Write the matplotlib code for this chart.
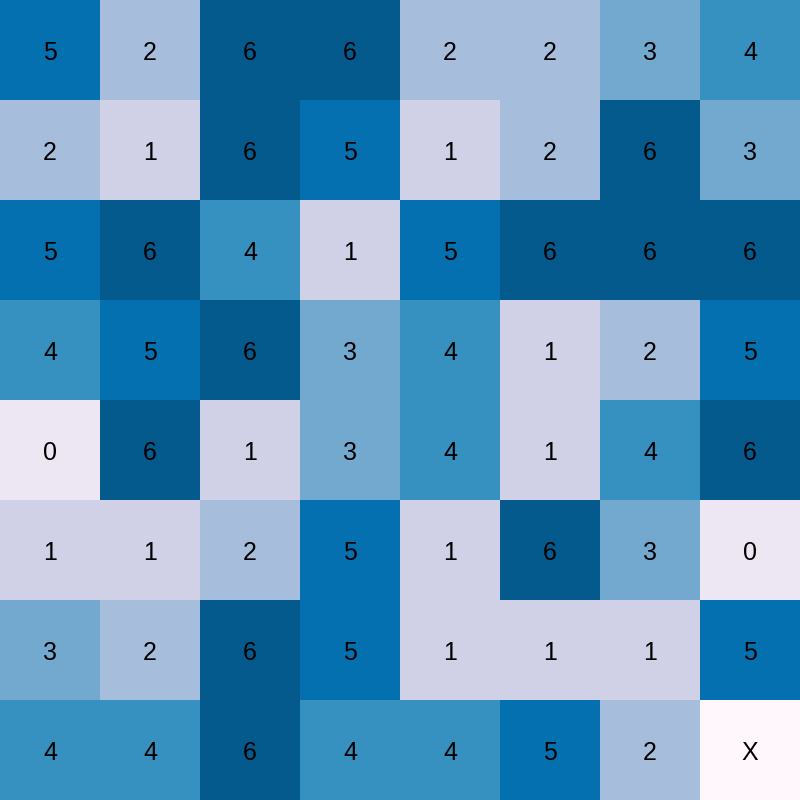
import matplotlib
matplotlib.use("Agg")
import matplotlib.pyplot as plt
from matplotlib.colors import ListedColormap, BoundaryNorm
import numpy as np

labels = [
    ["5", "2", "6", "6", "2", "2", "3", "4"],
    ["2", "1", "6", "5", "1", "2", "6", "3"],
    ["5", "6", "4", "1", "5", "6", "6", "6"],
    ["4", "5", "6", "3", "4", "1", "2", "5"],
    ["0", "6", "1", "3", "4", "1", "4", "6"],
    ["1", "1", "2", "5", "1", "6", "3", "0"],
    ["3", "2", "6", "5", "1", "1", "1", "5"],
    ["4", "4", "6", "4", "4", "5", "2", "X"],
]

palette = ["#fff7fb", "#ece7f2", "#d0d1e6", "#a6bddb", "#74a9cf",
           "#3690c0", "#0570b0", "#045a8d"]

vals = np.array([[-1 if c == "X" else int(c) for c in row] for row in labels])

cmap = ListedColormap(palette)
norm = BoundaryNorm(np.arange(-1.5, 7.5, 1), cmap.N)

fig = plt.figure(figsize=(8, 8), dpi=100)
ax = fig.add_axes([0, 0, 1, 1])
ax.imshow(vals, cmap=cmap, norm=norm, aspect="auto", interpolation="nearest")
for i, row in enumerate(labels):
    for j, c in enumerate(row):
        ax.text(j, i, c, ha="center", va="center_baseline", fontsize=18,
                family=["Liberation Sans", "DejaVu Sans"], color="black")
ax.set_axis_off()
fig.savefig("out.png", dpi=100)
